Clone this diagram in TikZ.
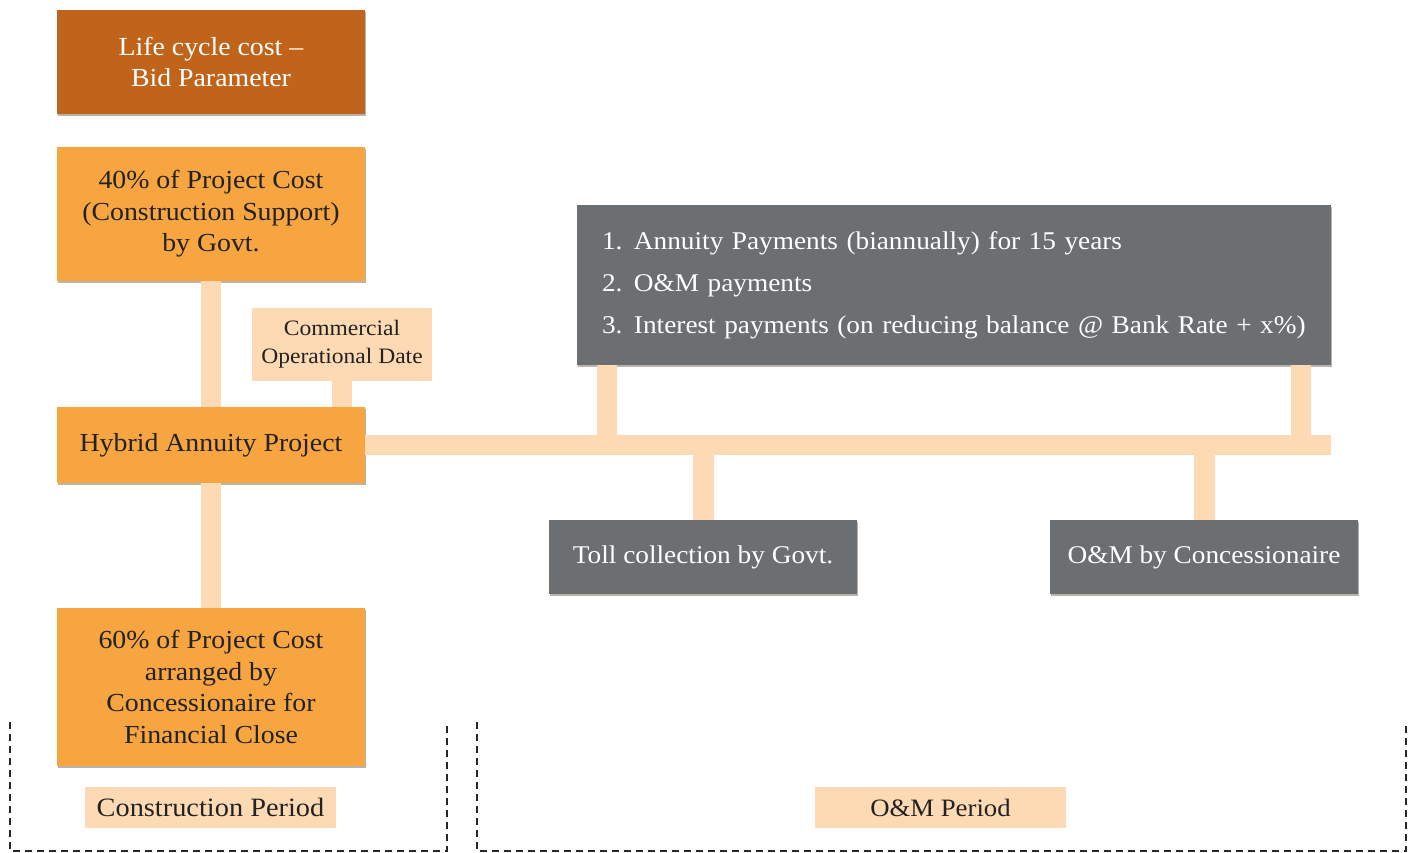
\documentclass[tikz,border=0pt]{standalone}
\usepackage{fontspec}
\setmainfont{Liberation Serif}[FakeStretch=1.07]
\usetikzlibrary{shadows}
\definecolor{darkor}{HTML}{C1641B}
\definecolor{orbox}{HTML}{F7A541}
\definecolor{peach}{HTML}{FDDAB3}
\definecolor{graybox}{HTML}{6C6F71}
\definecolor{txt}{HTML}{222222}
\tikzset{
  box/.style={rectangle, inner sep=0pt, align=center,
    drop shadow={shadow xshift=1pt, shadow yshift=-2pt, opacity=0.35, fill=black!70!brown}},
  lcbox/.style={box, fill=darkor, text=white, font=\fontsize{26}{31.5}\selectfont},
  orangebox/.style={box, fill=orbox, text=txt, font=\fontsize{26}{31.5}\selectfont},
  greybox/.style={box, fill=graybox, text=white, font=\fontsize{25.5}{42}\selectfont},
  tag/.style={rectangle, fill=peach, inner sep=0pt, align=center, text=txt},
  conn/.style={draw=peach, line width=20.5pt},
  period/.style={draw=black!85, line width=1.1pt, dash pattern=on 7pt off 5pt},
}
\begin{document}
\begin{tikzpicture}[x=1pt,y=-1pt]
\useasboundingbox[fill=white] (0,0) rectangle (1415,852);

% dashed period regions
\draw[period] (10,722) -- (10,851) -- (447,851) -- (447,722);
\draw[period] (477,722) -- (477,851) -- (1406,851) -- (1406,722);

% connectors (drawn first, boxes on top)
\coordinate (barend) at (1331,445);
\coordinate (up1) at (607,445);
\coordinate (up2) at (1301,445);
\coordinate (dn1) at (703.5,445);
\coordinate (dn2) at (1204.5,445);
\coordinate (bartop1) at (607,434);

% nodes
\node[lcbox, minimum width=308pt, minimum height=104pt] (lcc) at (211,62) {Life cycle cost --\\Bid Parameter};
\node[orangebox, minimum width=308pt, minimum height=134pt] (b40) at (211,214) {40\% of Project Cost\\(Construction Support)\\by Govt.};
\node[tag, minimum width=180pt, minimum height=73pt, font=\fontsize{22}{28}\selectfont] (cod) at (342,344.5) {Commercial\\Operational Date};
\node[orangebox, minimum width=308pt, minimum height=76pt] (hap) at (211,445) {Hybrid Annuity Project};
\node[orangebox, minimum width=308pt, minimum height=158pt] (b60) at (211,687) {60\% of Project Cost\\arranged by\\Concessionaire for\\Financial Close};
\node[greybox, minimum width=754pt, minimum height=160pt, text width=704pt, align=left] (pay) at (954,285)
  {\makebox[32pt][l]{1.}Annuity Payments (biannually) for 15 years\\
   \makebox[32pt][l]{2.}O\&M payments\\
   \makebox[32pt][l]{3.}Interest payments (on reducing balance @ Bank Rate + x\%)};
\node[greybox, minimum width=308pt, minimum height=74pt] (toll) at (703,557) {Toll collection by Govt.};
\node[greybox, minimum width=308pt, minimum height=74pt] (om) at (1204,557) {O\&M by Concessionaire};
\node[tag, minimum width=251pt, minimum height=41pt, font=\fontsize{26.5}{31}\selectfont] (cp) at (210.5,807.5) {Construction Period};
\node[tag, minimum width=251pt, minimum height=41pt, font=\fontsize{25}{31}\selectfont] (omp) at (940.5,807.5) {O\&M Period};

\draw[conn] (b40.south) -- (hap.north);
\draw[conn] (hap.south) -- (b60.north);
\draw[conn] (cod.south) -- (cod.south |- hap.north);
\draw[conn] (hap.east) -- (barend);
\draw[conn] (up1 |- pay.south) -- (up1);
\draw[conn] (up2 |- pay.south) -- (up2);
\draw[conn] (dn1) -- (dn1 |- toll.north);
\draw[conn] (dn2) -- (dn2 |- om.north);
\end{tikzpicture}
\end{document}
